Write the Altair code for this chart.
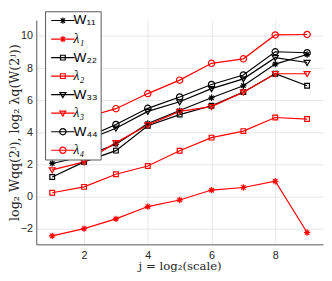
import altair as alt
import pandas as pd

# ---- data ----
j_vals = [1, 2, 3, 4, 5, 6, 7, 8, 9]
series_names = ["W₁₁", "λ₁", "W₂₂", "λ₂", "W₃₃", "λ₃", "W₄₄", "λ₄"]
series_markers = ["asterisk", "asterisk", "square", "square",
                  "triangle", "triangle", "circle", "circle"]
W11 = [2.05, 2.5, 3.25, 4.55, 5.35, 6.15, 6.9, 8.25, 8.85]
lam1 = [-2.47, -2.02, -1.41, -0.64, -0.23, 0.39, 0.55, 0.94, -2.26]
W22 = [1.2, 2.15, 2.85, 4.4, 5.1, 5.65, 6.5, 7.65, 6.9]
lam2 = [0.22, 0.59, 1.38, 1.89, 2.84, 3.66, 4.07, 4.92, 4.82]
W33 = [2.5, 3.45, 4.25, 5.3, 5.9, 6.72, 7.33, 8.65, 8.35]
lam3 = [1.65, 2.15, 3.35, 4.45, 5.3, 5.6, 6.5, 7.65, 7.65]
W44 = [2.8, 3.6, 4.48, 5.49, 6.2, 6.98, 7.57, 9.02, 8.96]
lam4 = [4.3, 4.9, 5.47, 6.41, 7.25, 8.3, 8.58, 10.07, 10.1]
series_values = [W11, lam1, W22, lam2, W33, lam3, W44, lam4]

x_ticks = [2, 4, 6, 8]
y_ticks = [-2, 0, 2, 4, 6, 8, 10]

# ---- styles ----
series_colors = ["#000000", "#ff0000"] * 4
AST = "M-1,0L1,0M0,-1L0,1M-0.7,-0.7L0.7,0.7M-0.7,0.7L0.7,-0.7"
SQR = "M-0.75,-0.75L0.75,-0.75L0.75,0.75L-0.75,0.75Z"
TRI = "M-0.95,-0.65L0.95,-0.65L0,0.95Z"
CIR = "M1,0A1,1,0,1,1,-1,0A1,1,0,1,1,1,0"
marker_domain = ["asterisk", "square", "triangle", "circle"]
marker_paths = [AST, SQR, TRI, CIR]
LINE = "M-3.7,0L3.7,0"
legend_paths = [LINE + marker_paths[marker_domain.index(m)] for m in series_markers]

rows = []
for name, mk, vals in zip(series_names, series_markers, series_values):
    for jj, v in zip(j_vals, vals):
        rows.append({"series": name, "marker": mk, "j": jj, "v": v})
df = pd.DataFrame(rows)

names_js = ",".join(f"'{n}'" for n in series_names)
paths_js = ",".join(f"'{p}'" for p in legend_paths)
shape_expr = f"[{paths_js}][indexof([{names_js}], datum.value)]"
is_lam = "indexof(datum.value, 'λ') == 0"

leg = alt.Legend(
    title=None,
    orient="none",
    legendX=9,
    legendY=-9,
    fillColor="white",
    strokeColor="#555555",
    padding=2.5,
    symbolSize=42,
    symbolStrokeWidth=1.2,
    symbolType={"expr": shape_expr},
    symbolFillColor="transparent",
    symbolOffset=8.75,
    labelOffset=4,
    labelFontSize=14,
    labelFont={"expr": f"{is_lam} ? 'Liberation Serif' : 'Liberation Sans'"},
    labelFontStyle={"expr": f"{is_lam} ? 'italic' : 'normal'"},
    labelColor="#000000",
    rowPadding=5,
    labelLimit=200,
)

x_enc = alt.X(
    "j:Q",
    scale=alt.Scale(domain=[0.5, 9.5], nice=False, zero=False),
    axis=alt.Axis(values=x_ticks, title="j = log₂(scale)", labelPadding=5,
                  titlePadding=1),
)
y_enc = alt.Y(
    "v:Q",
    scale=alt.Scale(domain=[-3, 11], nice=False, zero=False),
    axis=alt.Axis(values=y_ticks, title="log₂ Wqq(2ʲ),  log₂ λq(W(2ʲ))",
                  labelPadding=4, titleX=-22, titleBaseline="middle",
                  titleFontSize=13),
)
color_scale = alt.Scale(domain=series_names, range=series_colors)

lines = alt.Chart(df).mark_line(strokeWidth=1.2).encode(
    x=x_enc, y=y_enc,
    color=alt.Color("series:N", scale=color_scale, legend=leg),
    detail="series:N",
)
pts = alt.Chart(df).mark_point(filled=False, size=42, strokeWidth=1.2, opacity=1).encode(
    x=x_enc, y=y_enc,
    color=alt.Color("series:N", scale=color_scale, legend=leg),
    shape=alt.Shape("marker:N", scale=alt.Scale(domain=marker_domain, range=marker_paths), legend=None),
)

chart = alt.layer(lines, pts).properties(
    width=294, height=230,
    autosize=alt.AutoSizeParams(type="none"),
    padding={"left": 29, "top": 9, "right": 1, "bottom": 26},
).configure_view(stroke=None).configure_axis(
    grid=True, gridColor="#e6e6e6", gridWidth=1,
    domainColor="#555555", domainWidth=1,
    ticks=False,
    labelFont="Liberation Sans", labelFontSize=11, labelColor="#262626",
    titleFont="DejaVu Serif", titleFontSize=12, titleColor="#262626",
    titleFontWeight="normal",
)

chart.save("out.html", embed_options={"renderer": "svg", "actions": False})
